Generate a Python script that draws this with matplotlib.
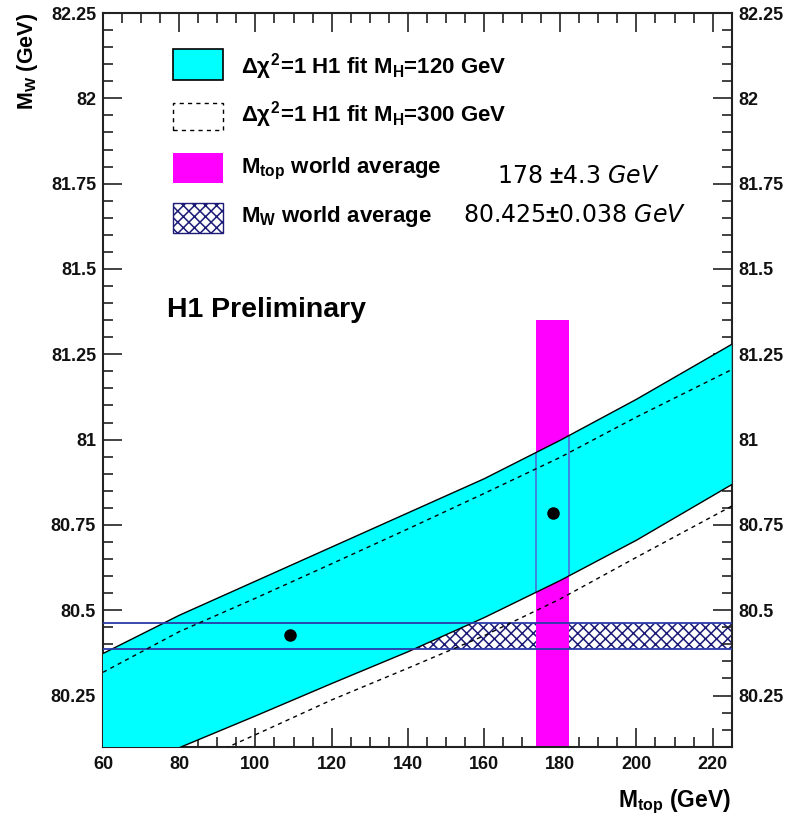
import numpy as np
import matplotlib
matplotlib.use("Agg")
import matplotlib.pyplot as plt
from matplotlib.ticker import MultipleLocator, FuncFormatter
from matplotlib.patches import Rectangle, Polygon

plt.rcParams['font.family'] = ['Liberation Sans', 'DejaVu Sans']
plt.rcParams['font.weight'] = 'bold'
plt.rcParams['mathtext.fontset'] = 'custom'
plt.rcParams['mathtext.rm'] = 'Liberation Sans:bold'
plt.rcParams['mathtext.it'] = 'Liberation Sans:bold'
plt.rcParams['mathtext.bf'] = 'Liberation Sans:bold'
plt.rcParams['mathtext.sf'] = 'DejaVu Sans:style=oblique:weight=normal'
plt.rcParams['hatch.linewidth'] = 1.1

# ---------------- data ----------------
# Delta chi2 = 1 band, M_H = 120 GeV (solid, cyan)
mtop_upper_120 = [60, 80, 100, 120, 140, 160, 180, 200, 225]
mw_upper_120 = [80.373, 80.485, 80.585, 80.685, 80.785, 80.885, 80.998, 81.118, 81.279]
mtop_lower_120 = [60, 80, 100, 120, 140, 160, 180, 200, 225]
mw_lower_120 = [80.005, 80.097, 80.190, 80.285, 80.378, 80.478, 80.587, 80.705, 80.868]

# Delta chi2 = 1 band, M_H = 300 GeV (dashed)
mtop_upper_300 = [60, 80, 100, 120, 140, 160, 180, 200, 225]
mw_upper_300 = [80.318, 80.437, 80.535, 80.636, 80.738, 80.842, 80.948, 81.066, 81.205]
mtop_lower_300 = [80, 100, 120, 140, 160, 180, 200, 225]
mw_lower_300 = [80.035, 80.135, 80.237, 80.330, 80.425, 80.533, 80.655, 80.805]

# world averages
mtop_avg, mtop_err = 178.0, 4.3
mtop_box_top = 81.35
mw_avg, mw_err = 80.425, 0.038
mw_hatch_start = 80.0

# fit points
fit_mtop = [109.0, 178.2]
fit_mw = [80.426, 80.785]

xlim = (60, 225)
ylim = (80.10, 82.25)

# ---------------- figure ----------------
W, H = 798, 816
fig = plt.figure(figsize=(W / 100, H / 100), dpi=100)
ax_l, ax_r, ax_t, ax_b = 103, 731.7, 13, 746.7
ax = fig.add_axes([ax_l / W, 1 - ax_b / H, (ax_r - ax_l) / W, (ax_b - ax_t) / H])
ax.set_xlim(*xlim)
ax.set_ylim(*ylim)

def fx(px):
    return px / W

def fy(py):
    return 1 - py / H

navy = '#1c1c78'
edge_blue = '#2a3aa8'
vblue = '#4a6fd8'

# M_W world average hatched band
ax.fill_between([mw_hatch_start, xlim[1]], mw_avg - mw_err, mw_avg + mw_err, facecolor='white',
                edgecolor=navy, hatch='xxx', linewidth=0, zorder=1)

# M_top world average box
ax.fill_between([mtop_avg - mtop_err, mtop_avg + mtop_err], ylim[0] - 0.2, mtop_box_top,
                facecolor='#ff00ff', edgecolor='none', linewidth=0, zorder=2)

# cyan band
xu = np.array(mtop_upper_120, float)
yu = np.array(mw_upper_120, float)
xl = np.array(mtop_lower_120, float)
yl = np.array(mw_lower_120, float)
poly_xy = np.vstack([np.column_stack([xu, yu]), np.column_stack([xl[::-1], yl[::-1]])])
band = Polygon(poly_xy, closed=True, facecolor='#00ffff', edgecolor='none', zorder=3)
ax.add_patch(band)
ax.plot(xu, yu, color='black', lw=1.0, zorder=4)
ax.plot(xl, yl, color='black', lw=1.0, zorder=4)

# blue outlines of M_top box visible inside the cyan band
for xv in (mtop_avg - mtop_err, mtop_avg + mtop_err):
    ln, = ax.plot([xv, xv], [ylim[0] - 0.2, mtop_box_top], color=vblue, lw=1.2, zorder=3.5)
    ln.set_clip_path(band)

# M_W band edges
for yv in (mw_avg - mw_err, mw_avg + mw_err):
    ax.plot(xlim, [yv, yv], color=edge_blue, lw=1.3, zorder=4.5)

# dashed M_H = 300 band
ax.plot(mtop_upper_300, mw_upper_300, color='black', lw=1.0, ls=(0, (3, 3)), zorder=5)
ax.plot(mtop_lower_300, mw_lower_300, color='black', lw=1.0, ls=(0, (3, 3)), zorder=5)

# fit points
ax.plot(fit_mtop, fit_mw, 'o', color='black', markersize=8, zorder=6)

# ---------------- axes style ----------------
ax.xaxis.set_major_locator(MultipleLocator(20))
ax.xaxis.set_minor_locator(MultipleLocator(5))
ax.yaxis.set_major_locator(MultipleLocator(0.25))
ax.yaxis.set_minor_locator(MultipleLocator(0.05))
ax.yaxis.set_major_formatter(FuncFormatter(lambda v, p: '%g' % round(v, 3)))
ax.tick_params(which='both', direction='in', top=True, right=True, labelright=True,
               width=1.2, colors='#222222', labelcolor='#111111')
ax.tick_params(which='major', length=14, labelsize=13)
ax.tick_params(which='minor', length=7)
ax.tick_params(axis='x', pad=7)
ax.tick_params(axis='y', pad=5)
for s in ax.spines.values():
    s.set_linewidth(1.5)
    s.set_color('#222222')

fig.text(fx(731), fy(807), r'M$_{\rm top}$ (GeV)', ha='right', va='baseline', fontsize=16.5)
fig.text(fx(28), fy(13), r'M$_{\rm W}$ (GeV)', ha='center', va='top', rotation=90, fontsize=15.5)

# ---------------- legend ----------------
bx0, bx1 = 173, 223
rows = [(49, 80), (103, 130), (153, 183), (203, 233)]

def box(r, **kw):
    y0, y1 = r
    rect = Rectangle((fx(bx0), fy(y1)), fx(bx1) - fx(bx0), fy(y0) - fy(y1),
                     transform=fig.transFigure, **kw)
    fig.add_artist(rect)

box(rows[0], facecolor='#00ffff', edgecolor='black', lw=1.2)
box(rows[1], facecolor='white', edgecolor='black', lw=1.0, ls=(0, (3, 3)))
box(rows[2], facecolor='#ff00ff', edgecolor='none')
box(rows[3], facecolor='white', edgecolor=navy, hatch='xxx', lw=1.0)

tx = 241
fs_leg = 16
fig.text(fx(tx), fy(73), r'$\Delta\chi^2$=1 H1 fit M$_{\rm H}$=120 GeV', fontsize=fs_leg, va='baseline')
fig.text(fx(tx), fy(122), r'$\Delta\chi^2$=1 H1 fit M$_{\rm H}$=300 GeV', fontsize=fs_leg, va='baseline')
fig.text(fx(tx), fy(173), r'M$_{\rm top}$ world average', fontsize=fs_leg, va='baseline')
fig.text(fx(tx), fy(222), r'M$_{\rm W}$ world average', fontsize=fs_leg, va='baseline')

fig.text(fx(497), fy(183), r'178 $\pm$4.3 $\mathsf{GeV}$', fontsize=17, va='baseline',
         family='DejaVu Sans', fontweight='normal')
fig.text(fx(463), fy(222), r'80.425$\pm$0.038 $\mathsf{GeV}$', fontsize=17, va='baseline',
         family='DejaVu Sans', fontweight='normal')

fig.text(fx(167), fy(317), 'H1 Preliminary', fontsize=20.5, va='baseline')

fig.savefig('out.png', dpi=100)
